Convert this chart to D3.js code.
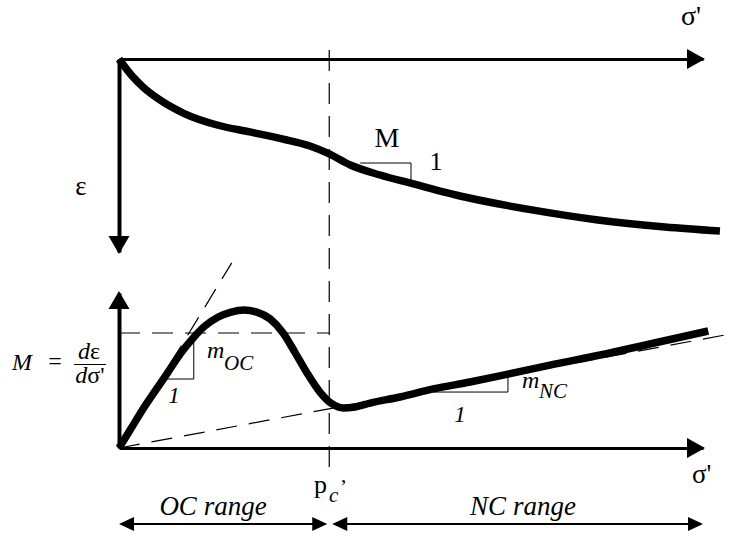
<!DOCTYPE html>
<html><head><meta charset="utf-8">
<script src="https://cdn.jsdelivr.net/npm/d3@7"></script>
<style>body{margin:0;background:#fff}svg{display:block}</style>
</head><body>
<svg id="c" width="735" height="539"></svg>
<script>
// ---- data (normalised units) ----
const sigmaDomain = [0, 10];
const strainDomain = [0, 10];
const modulusDomain = [0, 10];
const preconsolidation = 3.6;
// strain curve eps(sigma')
const strainX = [0, 0.21, 0.41, 0.70, 1.10, 1.68, 2.24, 2.81, 3.27, 3.60, 3.96, 4.47, 4.98, 5.92, 7.07, 8.20, 9.35, 10.29];
const strainY = [0, 0.83, 1.45, 2.12, 2.80, 3.42, 3.78, 4.15, 4.51, 4.92, 5.49, 6.01, 6.42, 7.15, 7.82, 8.34, 8.70, 8.91];
// modulus curve M(sigma')
const modX = [0, 0.19, 0.39, 0.62, 0.84, 1.06, 1.27, 1.47, 1.70, 1.92, 2.14, 2.36, 2.59, 2.81, 3.01, 3.22, 3.44, 3.65, 3.84, 4.04, 4.30, 4.81, 5.38, 6.01, 6.66, 7.38, 8.24, 9.09, 10.09];
const modY = [0, 1.16, 2.39, 3.68, 4.90, 6.13, 7.10, 7.87, 8.45, 8.77, 8.90, 8.77, 8.32, 7.42, 6.19, 4.84, 3.61, 2.84, 2.58, 2.65, 2.90, 3.29, 3.81, 4.26, 4.77, 5.35, 6.00, 6.71, 7.55];
// tangent lines
const ocTangentX = [0, 1.93];
const ocTangentY = [0, 11.94];
const ncTangentX = [0, 10.5];
const ncTangentY = [0, 7.38];
const mocLevel = 7.42;
// slope triangles [x0, x1, yBase, yTop]
const triTop = [4.13, 5.0, 5.39, 6.42];
const triOC = [0.75, 1.28, 4.45, 7.42];
const triNC = [5.38, 6.66, 3.61, 4.58];
// texts
const axisLabels = ["σ'", "ε", "σ'"];
const rangeLabels = ["OC range", "NC range"];

// ---- drawing ----
const svg = d3.select("#c");
const x = d3.scaleLinear().domain(sigmaDomain).range([119, 703]);
const yTop = d3.scaleLinear().domain(strainDomain).range([59, 252]);
const yBot = d3.scaleLinear().domain(modulusDomain).range([448, 293]);
const FONT = '"Liberation Serif"';

function arrowHead(g, tx, ty, dir, len, half) {
  let p;
  if (dir === 'r') p = [[tx, ty], [tx - len, ty - half], [tx - len, ty + half]];
  if (dir === 'l') p = [[tx, ty], [tx + len, ty - half], [tx + len, ty + half]];
  if (dir === 'd') p = [[tx, ty], [tx - half, ty - len], [tx + half, ty - len]];
  if (dir === 'u') p = [[tx, ty], [tx - half, ty + len], [tx + half, ty + len]];
  g.append("path").attr("d", "M" + p.join("L") + "Z").attr("fill", "#000");
}

function styleAxis(sel, w) {
  sel.selectAll(".domain").attr("stroke", "#000").attr("stroke-width", w);
}
const gAx = svg.append("g");
gAx.append("g").attr("transform", `translate(0,${yTop(0)})`)
  .call(d3.axisBottom(x).tickValues([]).tickSizeOuter(0)).call(styleAxis, 3);
gAx.append("g").attr("transform", `translate(${x(0)},0)`)
  .call(d3.axisLeft(yTop).tickValues([]).tickSizeOuter(0)).call(styleAxis, 4);
gAx.append("g").attr("transform", `translate(0,${yBot(0)})`)
  .call(d3.axisBottom(x).tickValues([]).tickSizeOuter(0)).call(styleAxis, 3);
gAx.append("g").attr("transform", `translate(${x(0)},0)`)
  .call(d3.axisLeft(yBot).tickValues([]).tickSizeOuter(0)).call(styleAxis, 4);
arrowHead(gAx, x(10) + 2, yTop(0), 'r', 18, 10);
arrowHead(gAx, x(0), yTop(10) + 2, 'd', 18, 10.5);
arrowHead(gAx, x(10) + 2, yBot(0), 'r', 18, 10);
arrowHead(gAx, x(0), yBot(10) - 2, 'u', 18, 10.5);

// dashed guide lines
const dash = "21,12";
const gd = svg.append("g").attr("stroke", "#000").attr("stroke-width", 1.2)
  .attr("stroke-dasharray", dash).attr("fill", "none");
gd.append("line").attr("x1", x(preconsolidation)).attr("x2", x(preconsolidation))
  .attr("y1", yTop(-0.47)).attr("y2", yBot(-1.55));
gd.append("line").attr("x1", x(0)).attr("x2", x(preconsolidation))
  .attr("y1", yBot(mocLevel)).attr("y2", yBot(mocLevel));
gd.append("line").attr("x1", x(ocTangentX[0])).attr("y1", yBot(ocTangentY[0]))
  .attr("x2", x(ocTangentX[1])).attr("y2", yBot(ocTangentY[1]));
gd.append("line").attr("x1", x(ncTangentX[0])).attr("y1", yBot(ncTangentY[0]))
  .attr("x2", x(ncTangentX[1])).attr("y2", yBot(ncTangentY[1]));

// curves
const strainPts = strainX.map((v, i) => [v, strainY[i]]);
const modPts = modX.map((v, i) => [v, modY[i]]);
svg.append("path").datum(strainPts)
  .attr("d", d3.line().x(d => x(d[0])).y(d => yTop(d[1])).curve(d3.curveMonotoneX))
  .attr("fill", "none").attr("stroke", "#000").attr("stroke-width", 7.5);
svg.append("path").datum(modPts)
  .attr("d", d3.line().x(d => x(d[0])).y(d => yBot(d[1])).curve(d3.curveMonotoneX))
  .attr("fill", "none").attr("stroke", "#000").attr("stroke-width", 7.5);

// slope triangles
function tri(t, ys) {
  svg.append("path")
    .attr("d", `M${x(t[0])},${ys(t[2])}H${x(t[1])}V${ys(t[3])}`)
    .attr("fill", "none").attr("stroke", "#000").attr("stroke-width", 1);
}
tri(triTop, yTop); tri(triOC, yBot); tri(triNC, yBot);

// range arrows
const gr = svg.append("g");
const yr = 524;
gr.append("line").attr("x1", x(0) + 4).attr("x2", x(preconsolidation) - 6).attr("y1", yr).attr("y2", yr)
  .attr("stroke", "#000").attr("stroke-width", 2);
gr.append("line").attr("x1", x(preconsolidation) + 6).attr("x2", x(10) - 4).attr("y1", yr).attr("y2", yr)
  .attr("stroke", "#000").attr("stroke-width", 2);
arrowHead(gr, x(0), yr, 'l', 15, 7);
arrowHead(gr, x(preconsolidation) - 2, yr, 'r', 15, 7);
arrowHead(gr, x(preconsolidation) + 3, yr, 'l', 15, 7);
arrowHead(gr, x(10), yr, 'r', 15, 7);

// texts
function txt(s, tx, ty, size, opts = {}) {
  return svg.append("text").attr("x", tx).attr("y", ty)
    .style("font-family", FONT).style("font-size", size + "px")
    .style("font-style", opts.italic ? "italic" : "normal")
    .attr("text-anchor", opts.anchor || "start").attr("fill", "#000").text(s);
}
txt(axisLabels[0], 681, 25, 28);
txt(axisLabels[1], 81, 195, 27, {anchor: "middle"});
txt(axisLabels[2], 692, 483, 27);
txt("M", 387, 147, 28, {anchor: "middle"});
txt("1", 436, 170, 26, {anchor: "middle"});
// M = dε/dσ'
txt("M", 12, 370, 24, {italic: true});
txt("=", 55, 369, 24, {anchor: "middle"});
const num = txt("", 89, 359, 24, {anchor: "middle"});
num.append("tspan").style("font-style", "italic").text("d");
num.append("tspan").text("ε");
svg.append("line").attr("x1", 74).attr("x2", 106).attr("y1", 364.5).attr("y2", 364.5).attr("stroke", "#000").attr("stroke-width", 1);
const den = txt("", 90, 383, 24, {anchor: "middle"});
den.append("tspan").style("font-style", "italic").text("d");
den.append("tspan").text("σ'");
// m_OC and m_NC
txt("m", 207, 358, 24, {italic: true});
txt("OC", 224, 370, 21, {italic: true});
txt("1", 174, 403, 23, {italic: true, anchor: "middle"});
txt("m", 522, 388, 24, {italic: true});
txt("NC", 539, 398, 21, {italic: true});
txt("1", 460, 422, 23, {italic: true, anchor: "middle"});
// pc'
txt("p", 314, 493, 26);
txt("c", 329, 502, 21, {italic: true});
txt("’", 340, 494, 21);
// range labels
txt(rangeLabels[0], 213, 515, 27, {italic: true, anchor: "middle"});
txt(rangeLabels[1], 523, 515, 27, {italic: true, anchor: "middle"});
</script>
</body></html>
